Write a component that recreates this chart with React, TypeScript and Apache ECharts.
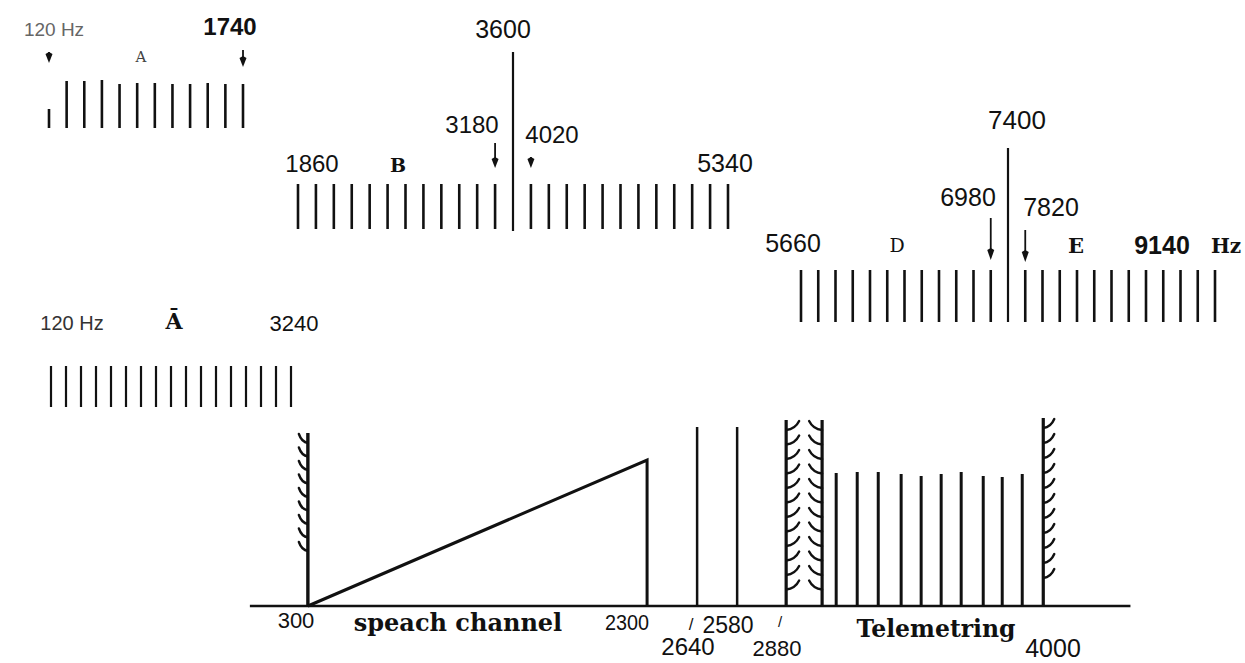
import React, { useEffect, useRef } from 'react';
import * as echarts from 'echarts';

const INK = '#111111';

// ---------- Band A (top-left row) ----------
const aChannels = ['420', '540', '660', '780', '900', '1020', '1140', '1260', '1380', '1500', '1620', '1740'];
const aLineHeights = [19, 47, 47, 48, 44, 45, 45, 44, 44, 45, 44, 44];
const aArrowChannels = ['420', '1740'];
const aArrowTops = [76, 78];
const aArrowTips = [65, 61];

// ---------- Band B ----------
const bChannels = ['1860', '1980', '2100', '2220', '2340', '2460', '2580', '2700', '2820', '2940', '3060', '3180', '3600',
  '4020', '4140', '4260', '4380', '4500', '4620', '4740', '4860', '4980', '5100', '5220', '5340'];
const bCarrier = '3600';
const bLineHeight = 45;
const bCarrierHeight = 177;
const bArrowChannels = ['3180', '4020'];
const bArrowTops = [86, 72];
const bArrowTips = [61, 61];

// ---------- Bands D / E ----------
const deChannels = ['5660', '5780', '5900', '6020', '6140', '6260', '6380', '6500', '6620', '6740', '6860', '6980', '7400',
  '7820', '7940', '8060', '8180', '8300', '8420', '8540', '8660', '8780', '8900', '9020', '9140'];
const deCarrier = '7400';
const deLineHeight = 52;
const deCarrierHeight = 174;
const deArrowChannels = ['6980', '7820'];
const deArrowTops = [104, 92];
const deArrowTips = [62, 60];

// ---------- Band Ā ----------
const abarChannels = ['120', '315', '510', '705', '900', '1095', '1290', '1485', '1680', '1875', '2070', '2265', '2460',
  '2655', '2850', '3045', '3240'];
const abarLineHeight = 41;

const lowerEdge = 300;
const lowerEdgeHeight = 173;
const lowerEdgeHatchTo = 50;
const speechLow = 300;
const speechHigh = 2300;
const speechRampTop = 146;
const pilotLines = [2595, 2831];
const pilotHeight = 179;
const guardLines = [3120, 3332];
const guardHeight = 186;
const telemetryLines = [3415, 3539, 3663, 3798, 3916, 4034, 4152, 4282, 4394, 4512];
const telemetryHeights = [133, 134, 134, 132, 130, 132, 134, 130, 129, 132];
const upperEdge = 4636;
const upperEdgeHeight = 188;
const upperEdgeHatchTo = 16;
const baselineFrom = -42;
const baselineTo = 5150;

// ---------- Texts ----------
type Lbl = { t: string; x: number; y: number; s: number; w?: string; f?: string; c?: string; sx?: number };
const SANS = '"Liberation Sans", Arial, sans-serif';
const SERIF = '"DejaVu Serif", serif';
const labels: Lbl[] = [
  { t: '120 Hz', x: 54, y: 29, s: 19, c: '#666' },
  { t: '1740', x: 230, y: 26, s: 24, w: 'bold' },
  { t: 'A', x: 141, y: 57, s: 15, f: SERIF, c: '#444' },
  { t: '3600', x: 503, y: 29, s: 25 },
  { t: '3180', x: 472, y: 124, s: 24 },
  { t: '4020', x: 552, y: 134, s: 24 },
  { t: '1860', x: 312, y: 163, s: 24 },
  { t: 'B', x: 398, y: 165, s: 19, f: SERIF, w: 'bold' },
  { t: '5340', x: 725, y: 163, s: 25 },
  { t: '7400', x: 1017, y: 120, s: 26 },
  { t: '6980', x: 968, y: 197, s: 25 },
  { t: '7820', x: 1051, y: 207, s: 25 },
  { t: '5660', x: 793, y: 243, s: 25 },
  { t: 'D', x: 897, y: 245, s: 19, f: SERIF },
  { t: 'E', x: 1076, y: 245, s: 21, f: SERIF, w: 'bold' },
  { t: '9140', x: 1162, y: 245, s: 25, w: 'bold' },
  { t: 'Hz', x: 1226, y: 246, s: 20, f: SERIF, w: 'bold' },
  { t: '120 Hz', x: 72, y: 323, s: 20, c: '#333' },
  { t: 'Ā', x: 174, y: 321, s: 22, f: SERIF, w: 'bold' },
  { t: '3240', x: 294, y: 323, s: 22 },
  { t: '300', x: 296, y: 620, s: 22 },
  { t: 'speach channel', x: 458, y: 622, s: 24, f: SERIF, w: 'bold' },
  { t: '2300', x: 627, y: 622, s: 22, sx: 0.9 },
  { t: '/', x: 691, y: 624, s: 17 },
  { t: '2580', x: 728, y: 625, s: 23 },
  { t: '/', x: 780, y: 621, s: 15 },
  { t: '2640', x: 688, y: 646, s: 24 },
  { t: '2880', x: 777, y: 648, s: 22 },
  { t: 'Telemetring', x: 936, y: 629, s: 23.5, f: SERIF, w: 'bold' },
  { t: '4000', x: 1053, y: 648, s: 25 },
];

const vLine = (lw: number) => (_p: any, api: any) => {
  const a = api.coord([api.value(0), api.value(2)]);
  const b = api.coord([api.value(0), api.value(1)]);
  return {
    type: 'line',
    shape: { x1: a[0], y1: a[1], x2: b[0], y2: b[1] },
    style: { stroke: INK, lineWidth: lw },
  };
};

const arrow = (headLen: number, headW: number) => (_p: any, api: any) => {
  const top = api.coord([api.value(0), api.value(1)]);
  const tip = api.coord([api.value(0), api.value(2)]);
  return {
    type: 'group',
    children: [
      { type: 'line', shape: { x1: top[0], y1: top[1], x2: tip[0], y2: tip[1] - headLen + 1 }, style: { stroke: INK, lineWidth: 1.8 } },
      {
        type: 'polygon',
        shape: { points: [[tip[0], tip[1]], [tip[0] - headW, tip[1] - headLen], [tip[0], tip[1] - headLen - 2], [tip[0] + headW, tip[1] - headLen]] },
        style: { fill: INK },
      },
    ],
  };
};

const hatchEdge = (lw: number, spacing: number, len: number) => (_p: any, api: any) => {
  const x = api.value(0);
  const top = api.value(1);
  const hatchLow = api.value(2);
  const dir = api.value(3);
  const pTop = api.coord([x, top]);
  const pBase = api.coord([x, 0]);
  const pLow = api.coord([x, hatchLow]);
  const children: any[] = [
    { type: 'line', shape: { x1: pBase[0], y1: pBase[1], x2: pTop[0], y2: pTop[1] }, style: { stroke: INK, lineWidth: lw } },
  ];
  for (let y = pTop[1] + 10; y <= pLow[1]; y += spacing) {
    children.push({
      type: 'bezierCurve',
      shape: { x1: pTop[0], y1: y, x2: pTop[0] + dir * len, y2: y - 9, cpx1: pTop[0] + dir * (len * 0.7), cpy1: y - 1 },
      style: { stroke: INK, lineWidth: 2.4, fill: 'none', lineCap: 'round' },
    });
  }
  return { type: 'group', children };
};

const rampItem = (_p: any, api: any) => {
  const p0 = api.coord([api.value(0), 0]);
  const p1 = api.coord([api.value(1), api.value(2)]);
  const p2 = api.coord([api.value(1), 0]);
  return {
    type: 'polyline',
    shape: { points: [p0, p1, p2] },
    style: { stroke: INK, lineWidth: 3, fill: 'none', lineJoin: 'miter' },
  };
};

const baselineItem = (_p: any, api: any) => {
  const a = api.coord([api.value(0), 0]);
  const b = api.coord([api.value(1), 0]);
  return { type: 'line', shape: { x1: a[0], y1: a[1], x2: b[0], y2: b[1] }, style: { stroke: INK, lineWidth: 2.6 } };
};

const idx = (arr: string[], v: string) => arr.indexOf(v);

export default function App() {
  const ref = useRef<HTMLDivElement>(null);
  useEffect(() => {
    if (!ref.current) return;
    const chart = echarts.init(ref.current, null, { renderer: 'svg' });

    const grids = [
      { left: 49, top: 80, width: 194, height: 48 },
      { left: 298, top: 183, width: 430, height: 46 },
      { left: 801, top: 270, width: 414, height: 52 },
      { left: 51, top: 366, width: 240, height: 41 },
      { left: 257, top: 400, width: 848, height: 206 },
    ];
    const cats = [aChannels, bChannels, deChannels, abarChannels];
    const xAxis: any[] = cats.map((c, i) => ({ type: 'category', data: c, boundaryGap: false, gridIndex: i, show: false }));
    xAxis.push({ type: 'value', min: 0, max: 5000, gridIndex: 4, show: false });
    const yAxis: any[] = grids.map((g, i) => ({ type: 'value', min: 0, max: g.height, gridIndex: i, show: false }));

    const series: any[] = [
      // Band A
      { type: 'custom', xAxisIndex: 0, yAxisIndex: 0, renderItem: vLine(2.6),
        data: aChannels.map((c, i) => [i, aLineHeights[i], 0]) },
      { type: 'custom', xAxisIndex: 0, yAxisIndex: 0, renderItem: arrow(9, 3.5),
        data: aArrowChannels.map((c, i) => [idx(aChannels, c), aArrowTops[i], aArrowTips[i]]) },
      // Band B
      { type: 'custom', xAxisIndex: 1, yAxisIndex: 1, renderItem: vLine(2.6),
        data: bChannels.filter((c) => c !== bCarrier).map((c) => [idx(bChannels, c), bLineHeight, 0]) },
      { type: 'custom', xAxisIndex: 1, yAxisIndex: 1, renderItem: vLine(2.2),
        data: [[idx(bChannels, bCarrier), bCarrierHeight, -2]] },
      { type: 'custom', xAxisIndex: 1, yAxisIndex: 1, renderItem: arrow(9, 3.5),
        data: bArrowChannels.map((c, i) => [idx(bChannels, c), bArrowTops[i], bArrowTips[i]]) },
      // Bands D / E
      { type: 'custom', xAxisIndex: 2, yAxisIndex: 2, renderItem: vLine(2.6),
        data: deChannels.filter((c) => c !== deCarrier).map((c) => [idx(deChannels, c), deLineHeight, 0]) },
      { type: 'custom', xAxisIndex: 2, yAxisIndex: 2, renderItem: vLine(2.2),
        data: [[idx(deChannels, deCarrier), deCarrierHeight, 0]] },
      { type: 'custom', xAxisIndex: 2, yAxisIndex: 2, renderItem: arrow(10, 3.5),
        data: deArrowChannels.map((c, i) => [idx(deChannels, c), deArrowTops[i], deArrowTips[i]]) },
      // Band Ā
      { type: 'custom', xAxisIndex: 3, yAxisIndex: 3, renderItem: vLine(2.2),
        data: abarChannels.map((c, i) => [i, abarLineHeight, 0]) },
      // Bottom spectrum
      { type: 'custom', xAxisIndex: 4, yAxisIndex: 4, renderItem: baselineItem, data: [[baselineFrom, baselineTo]] },
      { type: 'custom', xAxisIndex: 4, yAxisIndex: 4, renderItem: hatchEdge(3.4, 13.5, 9),
        data: [[lowerEdge, lowerEdgeHeight, lowerEdgeHatchTo, -1]] },
      { type: 'custom', xAxisIndex: 4, yAxisIndex: 4, renderItem: rampItem, data: [[speechLow, speechHigh, speechRampTop]] },
      { type: 'custom', xAxisIndex: 4, yAxisIndex: 4, renderItem: vLine(2.5),
        data: pilotLines.map((f) => [f, pilotHeight, 0]) },
      { type: 'custom', xAxisIndex: 4, yAxisIndex: 4, renderItem: hatchEdge(3.2, 14.5, 13),
        data: [[guardLines[0], guardHeight, 6, 1], [guardLines[1], guardHeight, 6, -1]] },
      { type: 'custom', xAxisIndex: 4, yAxisIndex: 4, renderItem: vLine(3),
        data: telemetryLines.map((f, i) => [f, telemetryHeights[i], 0]) },
      { type: 'custom', xAxisIndex: 4, yAxisIndex: 4, renderItem: hatchEdge(3.2, 15, 11),
        data: [[upperEdge, upperEdgeHeight, upperEdgeHatchTo, 1]] },
    ];

    const graphic = labels.map((l) => ({
      type: 'text',
      x: l.x,
      y: l.y,
      scaleX: l.sx ?? 1,
      style: {
        text: l.t,
        fill: l.c ?? INK,
        font: `${l.w ?? 'normal'} ${l.s}px ${l.f ?? SANS}`,
        textAlign: 'center',
        textVerticalAlign: 'middle',
      },
    }));

    chart.setOption({
      animation: false,
      backgroundColor: '#ffffff',
      grid: grids,
      xAxis,
      yAxis,
      series,
      graphic,
    });
    return () => chart.dispose();
  }, []);
  return <div ref={ref} style={{ position: 'fixed', left: 0, top: 0, width: 1245, height: 663 }} />;
}
